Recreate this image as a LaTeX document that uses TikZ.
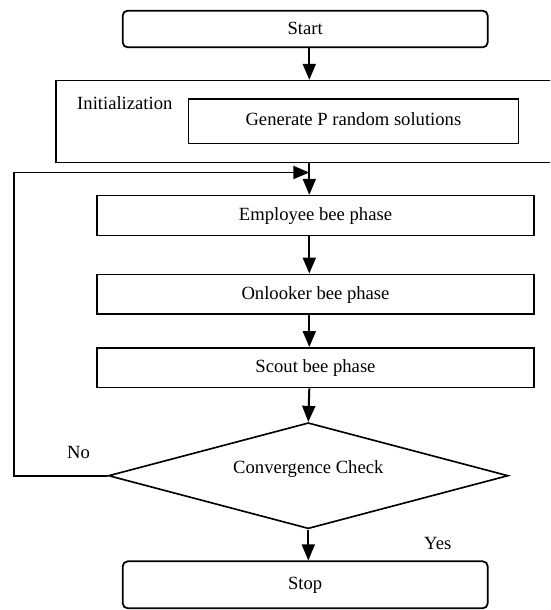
\documentclass[tikz,border=0pt]{standalone}
\usepackage{fontspec}
\setmainfont{Liberation Serif}
\usetikzlibrary{positioning,shapes.geometric,arrows.meta}
\tikzset{
  flowterm/.style={draw, rounded corners=0.15cm, line width=1.5pt, inner sep=0pt,
                   minimum width=10.95cm, text height=0.88em, text depth=0pt},
  flowframe/.style={draw, line width=1.4pt, inner sep=0pt},
  flowbox/.style={draw, line width=1.4pt, inner sep=0pt,
                  minimum width=13.11cm, minimum height=1.19cm,
                  text height=0.9em, text depth=0pt},
  flowcheck/.style={draw, diamond, aspect=3.6, line width=1.4pt, inner sep=0pt,
                    minimum width=11.99cm, minimum height=3.18cm,
                    text height=0.7em, text depth=1.13em},
  flowarrow/.style={-{Triangle[length=0.48cm,width=0.39cm]}, line width=1.7pt},
  flowlbl/.style={inner sep=0pt, anchor=base west},
}

\begin{document}
\begin{tikzpicture}[x=0.03cm, y=-0.03cm, font=\fontsize{15.9}{19}\selectfont]
    \path[use as bounding box, clip] (0,0) rectangle (550,610);

    % main column
    \node[flowterm, minimum height=1.10cm] (start) at (305.2,29) {Start};
    \node[flowframe, minimum width=15.12cm, minimum height=2.45cm] (init) at (308,121.5) {};
    \node[flowlbl] (inittitle) at (77,109) {Initialization};
    \node[flowframe, minimum width=9.9cm, minimum height=1.33cm,
          text height=0.7em, text depth=0pt] (generate) at (353.4,121.2) {Generate P random solutions};
    \node[flowbox] (employee) at (315.5,215.5) {Employee bee phase};
    \node[flowbox] (onlooker) at (315.5,294.2) {Onlooker bee phase};
    \node[flowbox] (scout) at (315.5,367.7) {Scout bee phase};
    \node[flowcheck] (check) at (308.3,475.7) {Convergence Check};
    \node[flowterm, minimum height=1.41cm] (stop) at (305.2,584.8) {Stop};

    \node[flowlbl] (nolbl) at (67,458) {No};
    \node[flowlbl] (yeslbl) at (424,549) {Yes};

    \coordinate (spine) at (309.3,0);
    \coordinate (loopx) at (14,0);
    \coordinate (loopy) at (0,172.5);

    % arrows
    \draw[flowarrow] (start.south -| spine) -- (init.north -| spine);
    \draw[flowarrow] (init.south -| spine) -- (employee.north -| spine);
    \draw[flowarrow] (employee.south -| spine) -- (onlooker.north -| spine);
    \draw[flowarrow] (onlooker.south -| spine) -- (scout.north -| spine);
    \draw[flowarrow] (scout.south -| spine) -- (check.north);
    \draw[flowarrow] (check.south) -- (stop.north -| check.south);

    % back to the loop
    \draw[flowarrow] (check.west) -- (check.west -| loopx) |- (spine |- loopy);

\end{tikzpicture}
\end{document}
